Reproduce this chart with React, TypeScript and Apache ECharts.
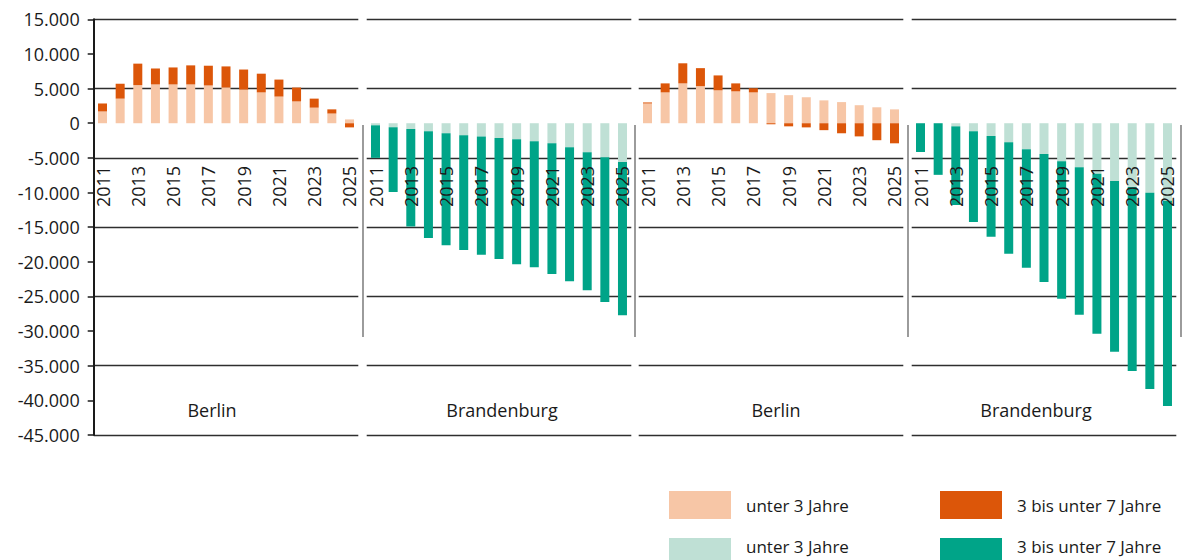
import { useEffect, useRef } from 'react';
import * as echarts from 'echarts';

const years = ['2011', '2012', '2013', '2014', '2015', '2016', '2017', '2018', '2019', '2020', '2021', '2022', '2023', '2024', '2025'];

// Panel 1: Berlin (first scenario)
const berlinAUnder3 = [1700, 3550, 5500, 5600, 5600, 5600, 5450, 5150, 4850, 4450, 3850, 3150, 2250, 1400, 550];
const berlinA3to7 = [1150, 2150, 3100, 2300, 2450, 2750, 2850, 3050, 2900, 2700, 2450, 2000, 1300, 600, -600];
// Panel 2: Brandenburg (first scenario)
const brbAUnder3 = [-300, -580, -850, -1150, -1450, -1750, -1900, -2150, -2300, -2600, -2900, -3450, -4200, -4900, -5600];
const brbA3to7 = [-4700, -9350, -14050, -15400, -16150, -16550, -17100, -17450, -18050, -18200, -18850, -19350, -19900, -20900, -22100];
// Panel 3: Berlin (second scenario)
const berlinBUnder3 = [2850, 4450, 5750, 5350, 4750, 4600, 4450, 4350, 4050, 3750, 3300, 3050, 2600, 2300, 2000];
const berlinB3to7 = [150, 1300, 2900, 2600, 2150, 1150, 600, -150, -450, -600, -1000, -1450, -1900, -2450, -2900];
// Panel 4: Brandenburg (second scenario)
const brbBUnder3 = [0, 0, -450, -1150, -1850, -2750, -3750, -4450, -5500, -6350, -7300, -8350, -9200, -10050, -11200];
const brbB3to7 = [-4150, -7450, -11350, -13100, -14550, -16100, -17100, -18450, -19850, -21300, -23100, -24650, -26550, -28300, -29600];

const panelNames = ['Berlin', 'Brandenburg', 'Berlin', 'Brandenburg'];
const legendLabels = ['unter 3 Jahre', '3 bis unter 7 Jahre'];

const Y_MIN = -45000;
const Y_MAX = 15000;
const X_AXIS_AT = -5000;

const COL_OR_LIGHT = '#f7c6a6';
const COL_OR_DARK = '#dc5609';
const COL_GR_LIGHT = '#bfe0d5';
const COL_GR_DARK = '#00a488';
const TEXT = '#1a1a1a';
const FONT = '"Open Sans", "Noto Sans", sans-serif';

function fmt(v: number): string {
  const s = Math.abs(v).toString().replace(/\B(?=(\d{3})+(?!\d))/g, '.');
  return (v < 0 ? '-' : '') + s;
}

export default function App() {
  const ref = useRef<HTMLDivElement>(null);

  useEffect(() => {
    if (!ref.current) return;
    const chart = echarts.init(ref.current, null, { renderer: 'svg' });

    const TOP = 19.3;
    const HEIGHT = 415.7;
    const W = 264.6;
    const lefts = [93.7, 366.7, 638.7, 911.7];
    const axisOffset = -(HEIGHT * (X_AXIS_AT - Y_MIN)) / (Y_MAX - Y_MIN);

    const panels = [
      { u: berlinAUnder3, d: berlinA3to7, cu: COL_OR_LIGHT, cd: COL_OR_DARK },
      { u: brbAUnder3, d: brbA3to7, cu: COL_GR_LIGHT, cd: COL_GR_DARK },
      { u: berlinBUnder3, d: berlinB3to7, cu: COL_OR_LIGHT, cd: COL_OR_DARK },
      { u: brbBUnder3, d: brbB3to7, cu: COL_GR_LIGHT, cd: COL_GR_DARK },
    ];

    const grid = lefts.map((l) => ({ left: l, top: TOP, width: W, height: HEIGHT }));

    const xAxis = lefts.map((_, i) => ({
      type: 'category',
      gridIndex: i,
      data: years,
      position: 'bottom',
      offset: axisOffset,
      z: 10,
      axisLine: { show: false },
      axisTick: { show: false },
      axisLabel: {
        rotate: 90,
        interval: 1,
        margin: 8,
        fontSize: 18,
        color: TEXT,
        fontFamily: FONT,
      },
    }));

    const yAxis: any[] = lefts.map((_, i) => ({
      type: 'value',
      gridIndex: i,
      min: Y_MIN,
      max: Y_MAX,
      interval: 10000,
      axisLine: { show: false },
      axisTick: { show: false },
      axisLabel: { show: false },
      splitLine: { show: true, lineStyle: { color: '#2e2e2e', width: 1.4 } },
    }));
    yAxis.push({
      type: 'value',
      gridIndex: 0,
      min: Y_MIN,
      max: Y_MAX,
      interval: 5000,
      position: 'left',
      axisLine: { show: true, lineStyle: { color: '#1a1a1a', width: 2 } },
      axisTick: { show: true, length: 6, lineStyle: { color: '#1a1a1a', width: 1.5 } },
      splitLine: { show: false },
      axisLabel: {
        formatter: (v: number) => fmt(v),
        fontSize: 18,
        color: TEXT,
        fontFamily: FONT,
        margin: 14,
      },
    });

    const series: any[] = [];
    panels.forEach((p, i) => {
      series.push({
        type: 'bar',
        xAxisIndex: i,
        yAxisIndex: i,
        stack: 'p' + i,
        data: p.u,
        barWidth: 9,
        itemStyle: { color: p.cu },
      });
      series.push({
        type: 'bar',
        xAxisIndex: i,
        yAxisIndex: i,
        stack: 'p' + i,
        data: p.d,
        barWidth: 9,
        itemStyle: { color: p.cd },
      });
    });

    const sepX = [363, 635, 908, 1181];
    const labelX = [212, 502, 776, 1036];
    const graphic: any[] = [];
    sepX.forEach((x) => {
      graphic.push({
        type: 'line',
        shape: { x1: x, y1: 125, x2: x, y2: 337 },
        style: { stroke: '#666666', lineWidth: 1.3 },
        silent: true,
      });
    });
    panelNames.forEach((n, i) => {
      graphic.push({
        type: 'text',
        x: labelX[i],
        y: 410,
        style: {
          text: n,
          fill: TEXT,
          font: '18px ' + FONT,
          align: 'center',
          verticalAlign: 'middle',
        },
      });
    });
    const legendRows = [
      { y: 491, ty: 505, colors: [COL_OR_LIGHT, COL_OR_DARK] },
      { y: 538, ty: 546, colors: [COL_GR_LIGHT, COL_GR_DARK] },
    ];
    const legendCols = [669, 940];
    legendRows.forEach((row) => {
      legendCols.forEach((cx, j) => {
        graphic.push({
          type: 'rect',
          shape: { x: cx, y: row.y, width: 62, height: 28 },
          style: { fill: row.colors[j] },
        });
        graphic.push({
          type: 'text',
          x: cx + 77,
          y: row.ty,
          style: {
            text: legendLabels[j],
            fill: TEXT,
            font: '17px ' + FONT,
            align: 'left',
            verticalAlign: 'middle',
          },
        });
      });
    });

    chart.setOption({
      animation: false,
      backgroundColor: '#ffffff',
      grid,
      xAxis,
      yAxis,
      series,
      graphic,
    });

    return () => {
      chart.dispose();
    };
  }, []);

  return (
    <div
      ref={ref}
      style={{ position: 'fixed', left: 0, top: 0, width: 1192, height: 560 }}
    />
  );
}
